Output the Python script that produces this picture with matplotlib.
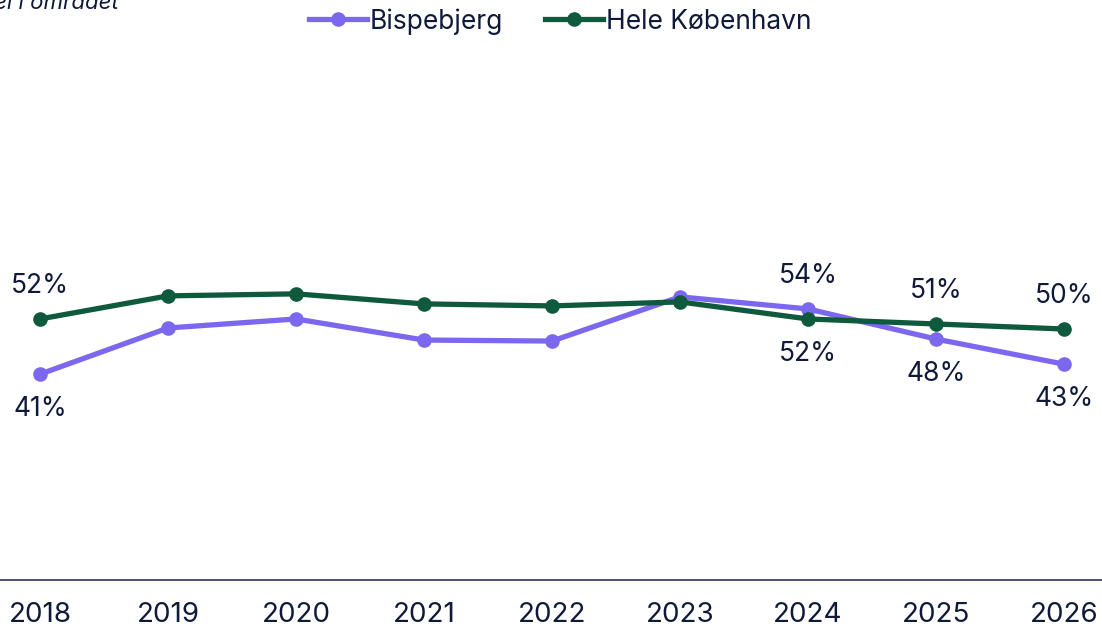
import matplotlib
matplotlib.use("Agg")
import matplotlib.pyplot as plt

years = ["2018", "2019", "2020", "2021", "2022", "2023", "2024", "2025", "2026"]
bispebjerg = [41, 50.2, 52.0, 47.8, 47.6, 56.4, 54, 48, 43]
hele_kbh = [52, 56.6, 57.0, 55.0, 54.6, 55.4, 52, 51, 50]

# which points carry a value label, and whether it sits above or below
bisp_labels = {0: "below", 6: "above", 7: "below", 8: "below"}
kbh_labels = {0: "above", 6: "below", 7: "above", 8: "above"}

PURPLE = "#7c68ee"
GREEN = "#0f5a3d"
INK = "#0f1a3a"

plt.rcParams["font.family"] = ["Inter", "DejaVu Sans"]

W, H = 1102, 628
fig = plt.figure(figsize=(W / 100, H / 100), dpi=100)
ax = fig.add_axes([0, 1 - 580 / H, 1, (580 - 78) / H])

x = list(range(len(years)))
ax.plot(x, bispebjerg, color=PURPLE, lw=3.8, marker="o", ms=9.5,
        label="Bispebjerg", zorder=3)
ax.plot(x, hele_kbh, color=GREEN, lw=3.8, marker="o", ms=9.5,
        label="Hele København", zorder=3)

for series, spots in ((bispebjerg, bisp_labels), (hele_kbh, kbh_labels)):
    for i, pos in spots.items():
        dy = 33 if pos == "above" else -35
        ax.annotate(f"{series[i]:.0f}%", (x[i], series[i]),
                    xytext=(0, dy * 0.72), textcoords="offset points",
                    ha="center", va="center", fontsize=19, color=INK)

ax.set_xlim(-40 / 128, 8 + 38 / 128)
ax.set_ylim(0, 100)
ax.set_xticks(x)
ax.set_xticklabels(years)
ax.set_yticks([])
ax.tick_params(axis="x", length=0, pad=16, labelsize=20, labelcolor=INK)
for side in ("top", "left", "right"):
    ax.spines[side].set_visible(False)
ax.spines["bottom"].set_color("#2a3350")
ax.spines["bottom"].set_linewidth(1.2)

leg = fig.legend(loc="upper center", bbox_to_anchor=(0.508, 1.025), ncol=2,
                 frameon=False, fontsize=19, handlelength=2.2,
                 handletextpad=0.1, columnspacing=1.6, labelcolor=INK)

fig.text(119 / W, 1 - 9 / H, "Andel i området", ha="right", va="baseline",
         fontsize=16, style="italic", color=INK)

fig.savefig("out.png", dpi=100)
